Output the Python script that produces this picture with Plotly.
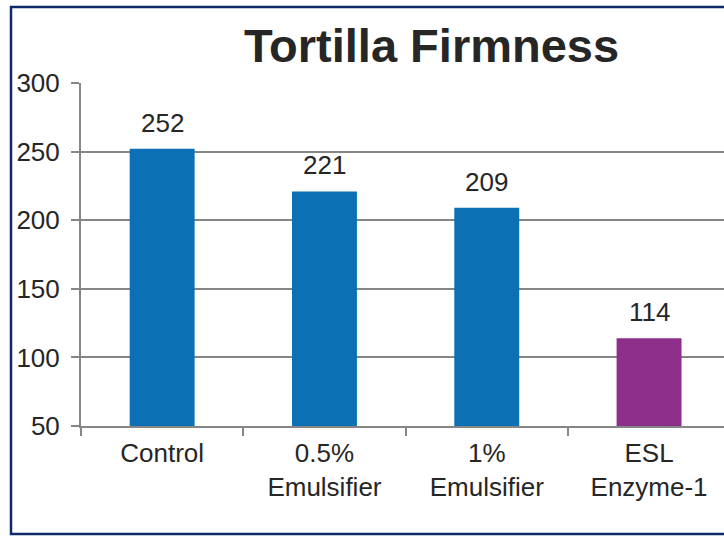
import plotly.graph_objects as go

# Tortilla firmness by treatment
categories = ["Control", "0.5%<br>Emulsifier", "1%<br>Emulsifier", "ESL<br>Enzyme-1"]
firmness = [252, 221, 209, 114]
bar_colors = ["#0b71b4", "#0b71b4", "#0b71b4", "#8c2e8a"]
y_ticks = [50, 100, 150, 200, 250, 300]

FONT = "Liberation Sans, Arial, sans-serif"
TEXT = "#262626"
GRID = "#868686"

PLOT_H = 343
PLOT_W = 643

fig = go.Figure()
fig.add_trace(go.Bar(
    x=categories,
    y=firmness,
    marker=dict(color=bar_colors, line=dict(width=0)),
    width=0.4,
    hoverinfo="x+y",
))

# value labels above each bar
for cat, val in zip(categories, firmness):
    fig.add_annotation(
        x=cat, y=val, xref="x", yref="y",
        text=str(val), showarrow=False,
        yanchor="bottom", yshift=9,
        font=dict(family=FONT, size=26, color=TEXT),
    )

# outer frame of the chart area
fig.add_shape(
    type="rect", xref="paper", yref="paper",
    x0=-70 / PLOT_W, x1=1.2,
    y0=-108 / PLOT_H, y1=1 + 76 / PLOT_H,
    line=dict(color="#0f2a6b", width=2.5),
    fillcolor="rgba(0,0,0,0)", layer="above",
)

fig.update_layout(
    width=724, height=536,
    margin=dict(l=81, r=0, t=83, b=110),
    paper_bgcolor="white", plot_bgcolor="white",
    showlegend=False,
    title=dict(
        text="<b>Tortilla Firmness</b>",
        x=431.5 / 724, xref="container", xanchor="center",
        y=1 - 46 / 536, yref="container", yanchor="middle",
        font=dict(family=FONT, size=47, color=TEXT),
    ),
    font=dict(family=FONT, size=26, color=TEXT),
    bargap=0.6,
)

fig.update_xaxes(
    type="category",
    range=[-0.5, -0.5 + PLOT_W / 162.3],
    tickson="boundaries",
    ticks="outside", ticklen=8, tickwidth=2, tickcolor=GRID,
    showline=True, linecolor=GRID, linewidth=2,
    showgrid=False, zeroline=False,
    tickfont=dict(family=FONT, size=26, color=TEXT),
    ticklabelstandoff=3,
)

fig.update_yaxes(
    range=[50, 300],
    tickmode="array", tickvals=y_ticks, ticktext=[str(v) for v in y_ticks],
    ticks="outside", ticklen=8, tickwidth=2, tickcolor=GRID,
    showline=True, linecolor=GRID, linewidth=2,
    showgrid=True, gridcolor=GRID, gridwidth=2,
    zeroline=False,
    tickfont=dict(family=FONT, size=26, color=TEXT),
    ticklabelstandoff=6,
)

fig.write_html("out.html")
